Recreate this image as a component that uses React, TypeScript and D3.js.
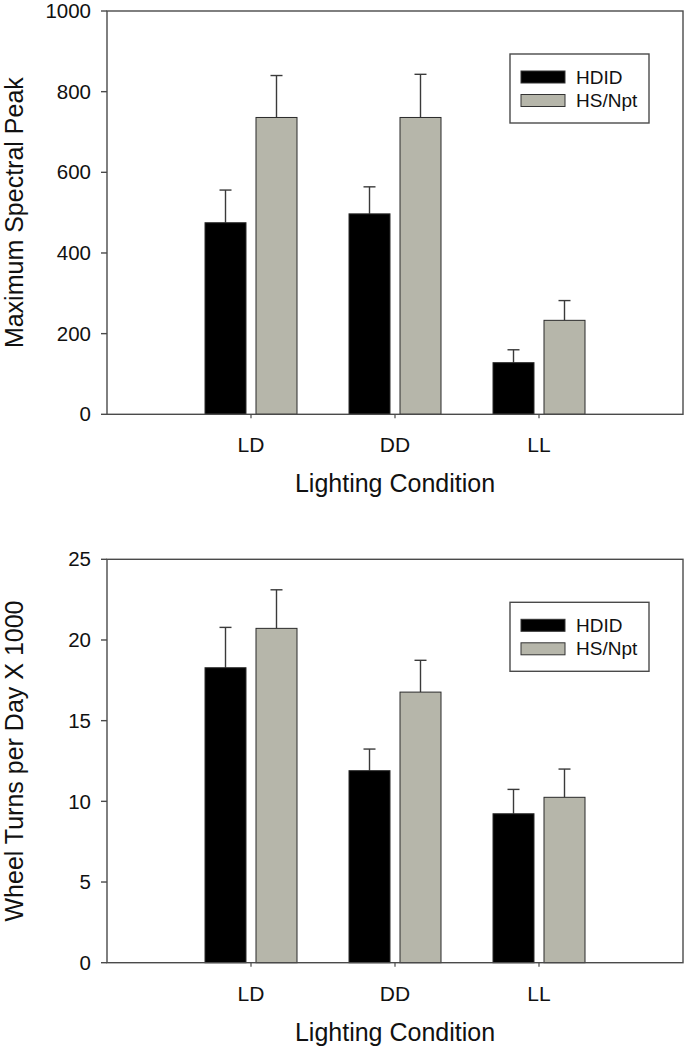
import React from "react";
import * as d3 from "d3";

const categories = ["LD", "DD", "LL"];
const seriesNames = ["HDID", "HS/Npt"];
const seriesColors = ["#000000", "#b6b6aa"];

// Panel 1: Maximum Spectral Peak
const peakHDID = [475, 497, 128];
const peakHDIDErr = [81, 67, 32];
const peakHS = [736, 736, 233];
const peakHSErr = [104, 107, 49];
const peakTicks = [0, 200, 400, 600, 800, 1000];

// Panel 2: Wheel Turns per Day X 1000
const wheelHDID = [18.28, 11.9, 9.23];
const wheelHDIDErr = [2.5, 1.34, 1.51];
const wheelHS = [20.72, 16.77, 10.25];
const wheelHSErr = [2.39, 1.97, 1.75];
const wheelTicks = [0, 5, 10, 15, 20, 25];

const FONT = "'Liberation Sans', Arial, Helvetica, sans-serif";
const AXIS = "#4a4a4a";

type PanelProps = {
  top: number;
  bottom: number;
  yMax: number;
  ticks: number[];
  yTitle: string;
  values: number[][];
  errors: number[][];
};

function Panel({ top, bottom, yMax, ticks, yTitle, values, errors }: PanelProps) {
  const left = 107;
  const right = 683;
  const x = d3.scaleLinear().domain([0, categories.length + 1]).range([left, right]);
  const y = d3.scaleLinear().domain([0, yMax]).range([bottom, top]);
  const inner = d3.scaleBand<string>().domain(seriesNames).range([-46, 46]).paddingInner(0.196);
  const bw = inner.bandwidth();

  const legendX = 510;
  const legendY = top + 43;

  return (
    <g>
      {/* bars */}
      {categories.map((c, ci) =>
        seriesNames.map((s, si) => {
          const cx = x(ci + 1);
          const bx = cx + (inner(s) as number);
          const v = values[si][ci];
          const e = errors[si][ci];
          const mid = bx + bw / 2;
          return (
            <g key={c + s}>
              <line x1={mid} x2={mid} y1={y(v)} y2={y(v + e)} stroke="#3a3a3a" strokeWidth={1.4} />
              <line x1={mid - 6} x2={mid + 6} y1={y(v + e)} y2={y(v + e)} stroke="#3a3a3a" strokeWidth={1.4} />
              <rect x={bx} y={y(v)} width={bw} height={y(0) - y(v)} fill={seriesColors[si]} stroke="#2a2a2a" strokeWidth={1} />
            </g>
          );
        })
      )}
      {/* frame */}
      <rect x={left} y={top} width={right - left} height={bottom - top} fill="none" stroke={AXIS} strokeWidth={1.4} />
      {/* y ticks */}
      {ticks.map((t) => (
        <g key={t}>
          <line x1={left - 6} x2={left} y1={y(t)} y2={y(t)} stroke={AXIS} strokeWidth={1.4} />
          <text x={left - 16} y={y(t)} dy="0.35em" textAnchor="end" fontSize={20.5} fontFamily={FONT} fill="#111">
            {t}
          </text>
        </g>
      ))}
      {/* x ticks */}
      {categories.map((c, ci) => (
        <g key={c}>
          <line x1={x(ci + 1)} x2={x(ci + 1)} y1={bottom} y2={bottom + 4} stroke={AXIS} strokeWidth={1.2} />
          <text x={x(ci + 1)} y={bottom + 38} textAnchor="middle" fontSize={21} fontFamily={FONT} fill="#111">
            {c}
          </text>
        </g>
      ))}
      <text x={(left + right) / 2} y={bottom + 78} textAnchor="middle" fontSize={25} fontFamily={FONT} fill="#111">
        Lighting Condition
      </text>
      <text
        transform={`translate(22.5, ${(top + bottom) / 2}) rotate(-90)`}
        textAnchor="middle"
        fontSize={25}
        fontFamily={FONT}
        fill="#111"
      >
        {yTitle}
      </text>
      {/* legend */}
      <rect x={legendX} y={legendY} width={139} height={69} fill="#fff" stroke={AXIS} strokeWidth={1.4} />
      {seriesNames.map((s, si) => (
        <g key={s}>
          <rect
            x={legendX + 11}
            y={legendY + 17 + si * 23.5}
            width={44}
            height={12}
            fill={seriesColors[si]}
            stroke="#333"
            strokeWidth={1}
          />
          <text x={legendX + 66} y={legendY + 29.5 + si * 23.5} fontSize={19} fontFamily={FONT} fill="#111">
            {s}
          </text>
        </g>
      ))}
    </g>
  );
}

export default function App() {
  return (
    <svg
      width={685}
      height={1050}
      style={{ position: "absolute", left: 0, top: 0, background: "#fff" }}
    >
      <rect width={685} height={1050} fill="#fff" />
      <Panel
        top={11}
        bottom={414.3}
        yMax={1000}
        ticks={peakTicks}
        yTitle="Maximum Spectral Peak"
        values={[peakHDID, peakHS]}
        errors={[peakHDIDErr, peakHSErr]}
      />
      <Panel
        top={559.3}
        bottom={962.7}
        yMax={25}
        ticks={wheelTicks}
        yTitle="Wheel Turns per Day X 1000"
        values={[wheelHDID, wheelHS]}
        errors={[wheelHDIDErr, wheelHSErr]}
      />
    </svg>
  );
}
